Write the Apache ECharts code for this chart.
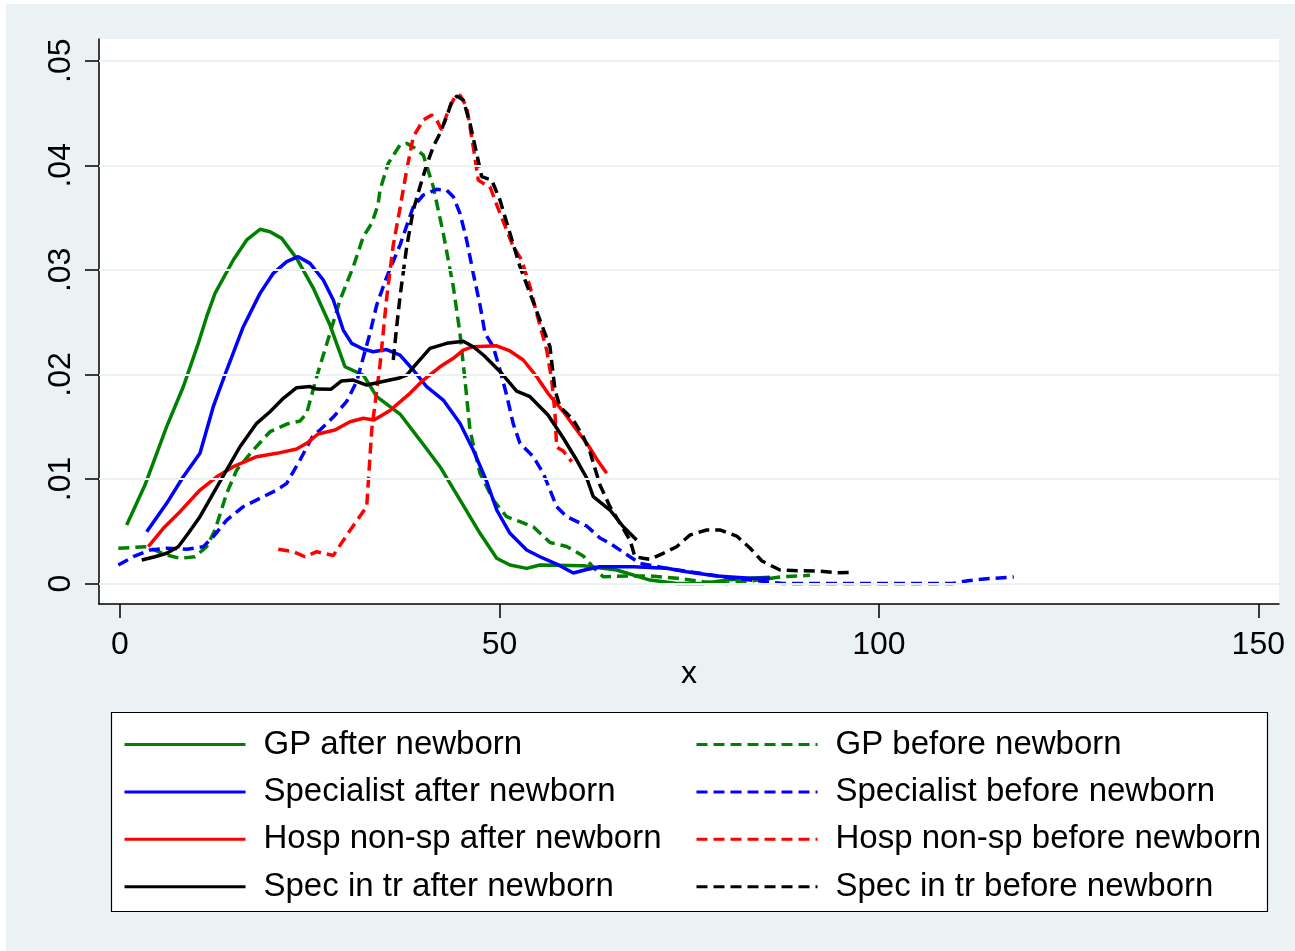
<!DOCTYPE html>
<html>
<head>
<meta charset="utf-8">
<script src="https://cdn.jsdelivr.net/npm/echarts@6/dist/echarts.min.js"></script>
<style>
html,body{margin:0;padding:0;background:#fff;}
#c{width:1295px;height:951px;}
</style>
</head>
<body>
<div id="c"></div>
<script>
// ---- data (x, density) ----
const gpAfter = [[0.88,0.0056],[3.29,0.00942],[6.15,0.0150],[8.34,0.01882],[10.32,0.02297],[11.42,0.02552],[12.52,0.02775],[14.93,0.03094],[16.70,0.03286],[18.45,0.03388],[19.77,0.03365],[21.31,0.03301],[23.28,0.0311],[25.47,0.02826],[27.67,0.02472],[29.65,0.02073],[32.06,0.01994],[33.83,0.01787],[36.90,0.01621],[39.53,0.01372],[42.17,0.01117],[44.80,0.00799],[47.44,0.0048],[49.64,0.00241],[51.39,0.00177],[53.59,0.00145],[55.34,0.00177],[61.05,0.0017],[65.45,0.00129],[69.84,0.00033],[73.36,0.0],[76.86,0.0],[79.94,0.00033],[83.01,0.0005],[85.65,0.0006]];
const gpBefore = [[-0.22,0.00337],[3.52,0.00352],[6.15,0.00273],[7.91,0.00241],[9.88,0.00256],[11.42,0.00352],[12.52,0.00512],[14.06,0.00863],[15.38,0.01086],[17.56,0.01277],[19.77,0.01452],[21.97,0.01525],[23.72,0.01554],[24.60,0.01628],[25.92,0.01978],[27.67,0.02393],[28.99,0.02711],[30.74,0.0303],[32.06,0.03317],[33.17,0.03445],[34.00,0.0362],[34.26,0.03763],[35.35,0.04019],[36.90,0.04194],[37.78,0.0421],[38.87,0.04162],[39.97,0.04098],[41.28,0.03795],[42.60,0.03349],[43.92,0.02839],[44.80,0.02393],[45.46,0.01946],[46.12,0.01468],[47.44,0.01054],[49.19,0.00799],[50.95,0.00639],[52.71,0.00591],[54.46,0.00543],[56.66,0.00392],[58.86,0.00354],[61.05,0.00263],[62.81,0.0012],[63.68,0.00065],[67.20,0.00072],[69.84,0.00072],[73.36,0.0005],[76.86,0.00017],[79.94,0.0],[83.01,0.00024],[87.40,0.00065],[90.92,0.00078]];
const specAfter = [[3.52,0.00495],[6.15,0.00767],[8.34,0.01021],[10.54,0.01245],[12.29,0.01691],[14.06,0.02042],[16.25,0.02456],[18.45,0.02775],[20.20,0.02967],[21.97,0.03078],[23.49,0.03126],[25.04,0.03062],[25.92,0.02982],[26.79,0.02903],[28.11,0.02711],[29.42,0.02424],[30.53,0.02297],[32.02,0.02243],[33.38,0.02217],[35.14,0.02238],[36.90,0.02185],[38.65,0.02042],[40.41,0.01882],[42.60,0.01755],[44.80,0.01532],[46.55,0.01277],[48.32,0.00976],[49.64,0.00703],[51.39,0.0048],[53.59,0.0032],[55.34,0.00256],[57.54,0.00186],[59.73,0.001],[61.50,0.00134],[63.25,0.00161],[67.64,0.00161],[72.04,0.00145],[74.67,0.00113],[78.63,0.00072],[83.01,0.0005],[85.65,0.0005]];
const specBefore = [[-0.22,0.00177],[1.75,0.00256],[3.95,0.0032],[6.15,0.00337],[8.79,0.00327],[10.98,0.00352],[12.29,0.00448],[14.06,0.00607],[16.25,0.00735],[18.45,0.00815],[20.65,0.00894],[21.97,0.00958],[23.72,0.01181],[25.47,0.0142],[26.35,0.01468],[28.11,0.01592],[29.87,0.01741],[31.19,0.01932],[32.15,0.02185],[32.94,0.02393],[33.83,0.02664],[35.14,0.02931],[36.90,0.03237],[38.65,0.03604],[39.97,0.03716],[41.73,0.0377],[43.05,0.03763],[43.92,0.03699],[44.80,0.03541],[45.68,0.03285],[46.55,0.02967],[47.44,0.02664],[48.10,0.02393],[49.19,0.02265],[50.07,0.02042],[50.95,0.01803],[51.83,0.01525],[52.71,0.01341],[54.46,0.01213],[55.78,0.01054],[57.54,0.00735],[58.86,0.00639],[61.50,0.0055],[63.25,0.00435],[64.57,0.00384],[67.20,0.00256],[68.52,0.00193],[72.04,0.00145],[76.43,0.00098],[80.82,0.0005],[87.40,0.0],[96.19,0.0],[109.71,0.0],[111.74,0.00027],[114.64,0.00048],[117.78,0.00062]];
const hospAfter = [[3.73,0.00352],[5.71,0.00528],[7.91,0.00687],[10.54,0.00894],[12.74,0.01021],[14.93,0.01117],[18.01,0.01213],[20.65,0.01245],[23.28,0.01286],[24.60,0.01341],[26.09,0.0143],[28.33,0.01468],[30.31,0.01547],[32.06,0.0158],[33.47,0.01564],[35.58,0.01655],[38.21,0.01819],[39.97,0.01946],[42.17,0.02073],[43.92,0.02154],[45.24,0.02233],[46.55,0.02265],[49.64,0.02273],[51.39,0.02224],[53.14,0.02138],[54.91,0.01978],[56.40,0.01819],[58.41,0.01645],[60.18,0.01468],[61.67,0.01325],[62.81,0.01191],[64.13,0.01054]];
const hospBefore = [[20.86,0.00327],[22.84,0.00304],[24.38,0.00256],[25.92,0.00304],[28.11,0.00268],[30.04,0.0048],[32.51,0.00735],[33.17,0.01468],[34.26,0.0209],[35.14,0.02731],[36.01,0.03237],[36.90,0.03591],[37.78,0.03954],[38.65,0.04273],[39.97,0.04433],[41.07,0.04481],[41.73,0.04433],[42.39,0.04337],[43.26,0.04528],[44.14,0.04656],[44.80,0.04672],[45.68,0.0456],[46.55,0.04178],[47.21,0.03859],[47.87,0.03827],[48.75,0.03795],[50.07,0.03541],[51.83,0.03221],[52.93,0.03094],[54.03,0.02839],[54.91,0.02584],[56.23,0.02233],[56.89,0.01946],[57.32,0.01628],[57.54,0.01305],[58.41,0.01267],[59.52,0.01165]];
const trAfter = [[2.86,0.00225],[4.61,0.00256],[6.15,0.00289],[7.68,0.00352],[9.00,0.0048],[10.54,0.00639],[12.29,0.00863],[14.06,0.01086],[15.81,0.01308],[18.01,0.01532],[19.77,0.01643],[21.52,0.01771],[23.28,0.01873],[25.04,0.01884],[25.92,0.0186],[27.78,0.01857],[29.19,0.01937],[30.74,0.01946],[32.51,0.01898],[34.48,0.0193],[36.67,0.01963],[37.78,0.01994],[39.10,0.02106],[40.85,0.02249],[43.05,0.02297],[45.24,0.02317],[46.55,0.02265],[47.96,0.02181],[50.07,0.02028],[52.27,0.01841],[54.03,0.01787],[56.40,0.01612],[58.41,0.01392],[60.18,0.01181],[61.50,0.01009],[62.37,0.0083],[64.57,0.00703],[66.32,0.00543],[68.08,0.00416]];
const trBefore = [[36.01,0.02138],[36.46,0.02456],[36.90,0.02743],[37.78,0.03221],[38.65,0.03572],[39.53,0.03795],[40.41,0.04003],[41.28,0.04177],[42.17,0.04306],[43.05,0.04465],[43.71,0.04608],[44.37,0.04662],[45.24,0.04624],[46.12,0.04401],[47.00,0.04114],[47.66,0.03891],[48.98,0.03859],[50.07,0.03668],[51.39,0.03349],[52.71,0.0303],[54.03,0.02775],[55.34,0.0252],[56.66,0.02265],[57.32,0.01851],[57.98,0.01691],[58.86,0.01628],[59.73,0.01564],[61.05,0.01404],[61.94,0.01258],[63.25,0.00942],[64.57,0.00735],[65.89,0.00576],[67.20,0.00416],[67.86,0.00256],[68.95,0.00241],[69.84,0.00231],[71.59,0.00289],[73.36,0.00352],[75.11,0.00464],[77.31,0.00512],[79.06,0.00512],[81.26,0.00454],[83.01,0.0034],[84.60,0.00215],[86.97,0.00129],[89.60,0.00122],[91.80,0.0012],[94.44,0.00103],[96.09,0.00105]];

const afterNames = ['GP after newborn','Specialist after newborn','Hosp non-sp after newborn','Spec in tr after newborn'];
const beforeNames = ['GP before newborn','Specialist before newborn','Hosp non-sp before newborn','Spec in tr before newborn'];
const xTickValues = [0, 50, 100, 150];
const xTickLabels = ['0', '50', '100', '150'];
const yTickValues = [0, 0.01, 0.02, 0.03, 0.04, 0.05];
const yTickLabels = ['0', '.01', '.02', '.03', '.04', '.05'];
const axisTitleX = 'x';

// ---- styling ----
const FONT = 'Liberation Sans, Arial, sans-serif';
const BG = '#EAF2F3';
const colors = ['#008000', '#0000FF', '#FF0000', '#000000'];
const dash = [11, 6];

function lineSeries(name, data, color, dashed) {
  return {
    name: name, type: 'line', data: data, symbol: 'none', smooth: false,
    lineStyle: { color: color, width: 3.5, type: dashed ? dash : 'solid' },
    itemStyle: { color: color },
    emphasis: { disabled: true }, z: 3
  };
}

const afterData = [gpAfter, specAfter, hospAfter, trAfter];
const beforeData = [gpBefore, specBefore, hospBefore, trBefore];
const series = [{
  type: 'line', data: [], silent: true, z: 1,
  markLine: {
    silent: true, symbol: ['none', 'none'], label: { show: false },
    lineStyle: { color: BG, width: 2, type: 'solid' },
    emphasis: { disabled: true },
    data: yTickValues.map(v => ({ yAxis: v }))
  }
}];
for (let i = 0; i < 4; i++) {
  series.push(lineSeries(afterNames[i], afterData[i], colors[i], false));
  series.push(lineSeries(beforeNames[i], beforeData[i], colors[i], true));
}

const legendBase = {
  orient: 'vertical', itemWidth: 121, itemHeight: 14, itemGap: 14.4,
  top: 728, padding: 0, selectedMode: false,
  itemStyle: { opacity: 0, borderWidth: 0 },
  lineStyle: { width: 3 },
  textStyle: { fontSize: 33, lineHeight: 32, color: '#000', fontFamily: FONT, padding: [0, 0, 0, 13] }
};

const chart = echarts.init(document.getElementById('c'), null, { renderer: 'canvas' });
chart.setOption({
  animation: false,
  backgroundColor: BG,
  textStyle: { fontFamily: FONT },
  graphic: [
    { type: 'rect', shape: { x: 0, y: 0, width: 6, height: 951 }, style: { fill: '#fff' }, silent: true },
    { type: 'rect', shape: { x: 0, y: 0, width: 1295, height: 4 }, style: { fill: '#fff' }, silent: true },
    { type: 'rect', shape: { x: 111.5, y: 712.5, width: 1156, height: 199 }, style: { fill: '#fff', stroke: '#000', lineWidth: 1.2 }, silent: true }
  ],
  grid: { left: 99, top: 39, width: 1180, height: 565, show: true, backgroundColor: '#fff', borderWidth: 0, containLabel: false },
  xAxis: {
    type: 'value', min: -2.767, max: 152.73,
    name: axisTitleX, nameLocation: 'middle', nameGap: 54, nameMoveOverlap: false,
    nameTextStyle: { fontSize: 32, color: '#000', fontFamily: FONT },
    axisLine: { show: true, onZero: false, lineStyle: { color: '#000', width: 1.5 } },
    axisTick: { show: true, length: 14, customValues: xTickValues, lineStyle: { color: '#000', width: 1.5 } },
    axisLabel: { customValues: xTickValues, margin: 25, fontSize: 32, color: '#000', fontFamily: FONT,
      formatter: v => xTickLabels[xTickValues.indexOf(Math.round(v))] },
    splitLine: { show: false }
  },
  yAxis: {
    type: 'value', min: -0.00196, max: 0.05208,
    axisLine: { show: true, onZero: false, lineStyle: { color: '#000', width: 1.5 } },
    axisTick: { show: true, length: 14, customValues: yTickValues, lineStyle: { color: '#000', width: 1.5 } },
    axisLabel: { customValues: yTickValues, rotate: 90, margin: 22, fontSize: 32, color: '#000', fontFamily: FONT,
      formatter: v => yTickLabels[Math.round(v * 100)] },
    splitLine: { show: false }
  },
  legend: [
    Object.assign({}, legendBase, { left: 123, data: afterNames }),
    Object.assign({}, legendBase, { left: 695, data: beforeNames })
  ],
  series: series
});
</script>
</body>
</html>
